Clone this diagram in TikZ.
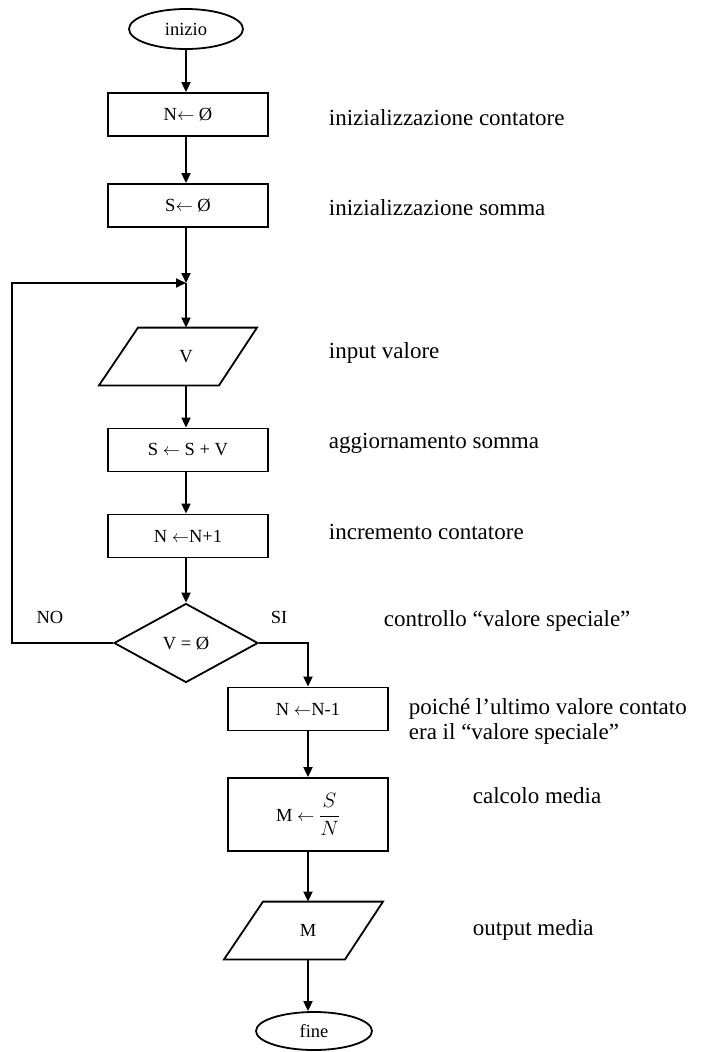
\documentclass[tikz,border=0pt]{standalone}
\usepackage{fontspec}
\setmainfont{Liberation Serif}
\usetikzlibrary{shapes.geometric,arrows.meta,calc}
\begin{document}
\begin{tikzpicture}[x=1pt,y=-1pt,
  line width=1.8pt,
  flow/.style={-{Triangle[length=10pt,width=9pt]}},
  boxfont/.style={font=\fontsize{18.5}{20}\selectfont},
  proc/.style={draw, rectangle, minimum width=160pt, minimum height=43pt, inner sep=0pt, boxfont},
  term/.style={draw, ellipse, minimum width=114pt, minimum height=40pt, inner sep=0pt, boxfont},
  io/.style={rectangle, minimum width=120pt, minimum height=56pt, inner sep=0pt, boxfont},
  dec/.style={draw, diamond, minimum width=144pt, minimum height=79pt, inner sep=0pt, boxfont},
  note/.style={anchor=west, inner sep=0pt, font=\fontsize{23}{27}\selectfont},
  lab/.style={inner sep=0pt, boxfont}]
\path[use as bounding box] (0,0) rectangle (728,1052);

% top column
\node[term] (inizio) at (186,29) {inizio};
\node[proc] (n0) at (188,114.5) {N$\leftarrow$ Ø};
\node[proc] (s0) at (188,205.5) {S$\leftarrow$ Ø};
\coordinate (merge) at (186,283);
\node[io] (v) at (186,356.5) {V};
\draw ($(v.north)+(-48,0)$) -- ($(v.north)+(71,0)$) -- ($(v.south)+(33,0)$) -- ($(v.south)+(-87,0)$) -- cycle;
\node[proc] (upd) at (188,450) {S $\leftarrow$ S + V};
\node[proc] (inc) at (188,536) {N $\leftarrow$N+1};
\node[dec] (test) at (186,643) {V = Ø};

% bottom column
\node[proc] (dec1) at (308,709) {N $\leftarrow$N-1};
\node[proc, minimum height=73pt] (media) at (308,814.5) {M $\leftarrow$ {\fontsize{22}{24}\selectfont$\displaystyle\frac{S}{N}$}};
\node[io] (out) at (308,930.5) {M};
\draw ($(out.north)+(-45,0)$) -- ($(out.north)+(75,0)$) -- ($(out.south)+(37,0)$) -- ($(out.south)+(-84,0)$) -- cycle;
\node[term, minimum width=116pt, minimum height=38pt] (fine) at (314,1031) {fine};

% connectors
\draw[flow] (inizio.south) -- (inizio.south |- n0.north);
\draw[flow] (n0.south -| inizio.south) -- (inizio.south |- s0.north);
\draw[flow] (s0.south -| merge) -- (merge);
\draw[flow] (merge) -- (v.north);
\draw[flow] (v.south) -- (v.south |- upd.north);
\draw[flow] (upd.south -| v.south) -- (v.south |- inc.north);
\draw[flow] (inc.south -| test.north) -- (test.north);
\coordinate (lc) at (12,283);
\draw[flow] (test.west) -| (lc) -- (merge);
\draw[flow] (test.east) -| (dec1.north);
\draw[flow] (dec1.south) -- (media.north);
\draw[flow] (media.south) -- (out.north);
\draw[flow] (out.south) -- (out.south |- fine.north);

% branch labels
\node[lab] (no) at (50,617) {NO};
\node[lab] (si) at (279,617) {SI};

% notes
\node[note] (t1) at (328,118) {inizializzazione contatore};
\node[note] (t2) at (328,208) {inizializzazione somma};
\node[note] (t3) at (328,353) {input valore};
\node[note] (t4) at (328,443) {aggiornamento somma};
\node[note] (t5) at (328,532) {incremento contatore};
\node[note] (t6) at (383,621) {controllo “valore speciale”};
\node[note] (t7) at (408,709) {poiché l’ultimo valore contato};
\node[note] (t8) at (408,734) {era il “valore speciale”};
\node[note] (t9) at (472,796) {calcolo media};
\node[note] (t10) at (472,930) {output media};
\end{tikzpicture}
\end{document}
